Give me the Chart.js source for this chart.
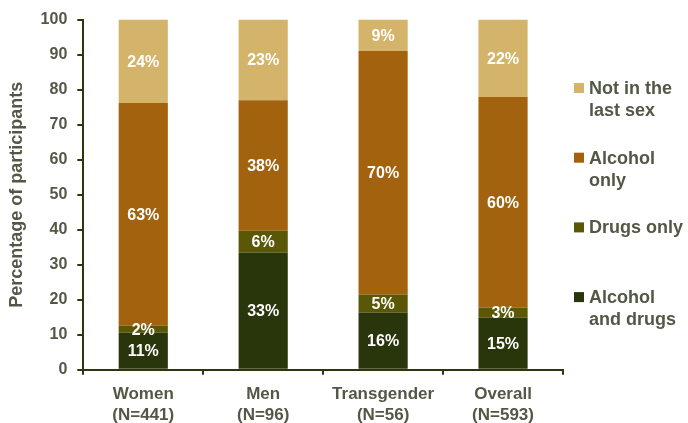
<!DOCTYPE html>
<html>
<head>
<meta charset="utf-8">
<script src="https://cdn.jsdelivr.net/npm/chart.js@4"></script>
<style>
  html, body { margin: 0; padding: 0; background: #fff; }
  #wrap { width: 688px; height: 423px; }
</style>
</head>
<body>
<div id="wrap"><canvas id="chart" width="688" height="423"></canvas></div>
<script>
var categories = [["Women", "(N=441)"], ["Men", "(N=96)"], ["Transgender", "(N=56)"], ["Overall", "(N=593)"]];

// bar heights
var alcoholAndDrugs = [10.6, 33.5, 16.3, 14.9];
var drugsOnly = [2.0, 6.2, 5.2, 2.9];
var alcoholOnly = [63.6, 37.3, 69.5, 60.1];
var notInLastSex = [23.8, 23.0, 9.0, 22.1];

// printed labels
var labelsAlcoholAndDrugs = ["11%", "33%", "16%", "15%"];
var labelsDrugsOnly = ["2%", "6%", "5%", "3%"];
var labelsAlcoholOnly = ["63%", "38%", "70%", "60%"];
var labelsNotInLastSex = ["24%", "23%", "9%", "22%"];

var yTicks = [0, 10, 20, 30, 40, 50, 60, 70, 80, 90, 100];

var textColor = "#535846";
var axisColor = "#2b380c";
var font = "'Liberation Sans', Arial, sans-serif";

// values printed in the middle of each segment
var segmentLabels = {
    id: "segmentLabels",
    afterDatasetsDraw: function(chart) {
        var ctx = chart.ctx;
        ctx.save();
        ctx.fillStyle = "#ffffff";
        ctx.font = "bold 16px " + font;
        ctx.textAlign = "center";
        ctx.textBaseline = "middle";
        chart.data.datasets.forEach(function(ds, i) {
            chart.getDatasetMeta(i).data.forEach(function(bar, j) {
                var p = bar.getCenterPoint();
                ctx.fillText(ds.valueLabels[j], p.x, p.y + 1);
            });
        });
        ctx.restore();
    }
};

// legend on the right, top series first, with two-line names
var sideLegend = {
    id: "sideLegend",
    afterDraw: function(chart) {
        var ctx = chart.ctx;
        var x = chart.chartArea.right + 11;
        var y = 88;
        ctx.save();
        ctx.font = "bold 18px " + font;
        ctx.textBaseline = "middle";
        ctx.textAlign = "left";
        var sets = chart.data.datasets.slice().reverse();
        sets.forEach(function(ds) {
            ctx.fillStyle = ds.backgroundColor;
            ctx.fillRect(x, y - 5, 10, 10);
            ctx.fillStyle = textColor;
            ds.legendText.forEach(function(line, k) {
                ctx.fillText(line, x + 15, y + 1 + k * 22);
            });
            y += 69.7;
        });
        ctx.restore();
    }
};

new Chart(document.getElementById("chart").getContext("2d"), {
    type: "bar",
    data: {
        labels: categories,
        datasets: [
            { label: "Alcohol and drugs", legendText: ["Alcohol", "and drugs"], data: alcoholAndDrugs, valueLabels: labelsAlcoholAndDrugs, backgroundColor: "#29350a" },
            { label: "Drugs only", legendText: ["Drugs only"], data: drugsOnly, valueLabels: labelsDrugsOnly, backgroundColor: "#5a5806" },
            { label: "Alcohol only", legendText: ["Alcohol", "only"], data: alcoholOnly, valueLabels: labelsAlcoholOnly, backgroundColor: "#a3620d" },
            { label: "Not in the last sex", legendText: ["Not in the", "last sex"], data: notInLastSex, valueLabels: labelsNotInLastSex, backgroundColor: "#d3b46a" }
        ]
    },
    options: {
        responsive: false,
        animation: false,
        categoryPercentage: 1,
        barPercentage: 0.41,
        layout: { padding: { top: 10, right: 125, bottom: -12, left: 2 } },
        plugins: {
            legend: { display: false },
            tooltip: { enabled: false }
        },
        scales: {
            x: {
                stacked: true,
                grid: { offset: true, drawOnChartArea: false, color: axisColor, lineWidth: 2, tickLength: 5 },
                border: { color: axisColor, width: 2 },
                ticks: { color: textColor, font: { family: font, size: 17, weight: "bold", lineHeight: 1.24 }, padding: 9, maxRotation: 0 }
            },
            y: {
                stacked: true,
                min: 0,
                max: 100,
                afterBuildTicks: function(axis) {
                    axis.ticks = yTicks.map(function(v) { return { value: v }; });
                },
                grid: { drawOnChartArea: false, color: axisColor, lineWidth: 2, tickLength: 6 },
                border: { color: axisColor, width: 2 },
                ticks: { color: textColor, font: { family: font, size: 16, weight: "bold" }, padding: 10 },
                title: { display: true, text: "Percentage of participants", color: textColor, font: { family: font, size: 18, weight: "bold" }, padding: { top: 4, bottom: 3 } }
            }
        }
    },
    plugins: [segmentLabels, sideLegend]
});
</script>
</body>
</html>
